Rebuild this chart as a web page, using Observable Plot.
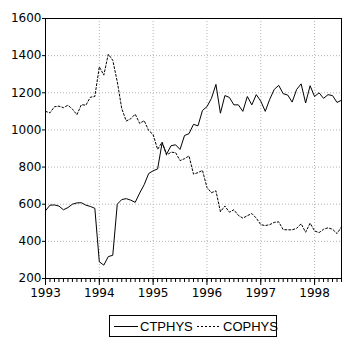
<!DOCTYPE html>
<html>
<head>
<meta charset="utf-8">
<script src="https://cdn.jsdelivr.net/npm/d3@7"></script>
<script src="https://cdn.jsdelivr.net/npm/@observablehq/plot@0.6"></script>
<style>
  body { margin: 0; background: #fff; }
  #chart svg { display: block; }
</style>
</head>
<body>
<div id="chart"></div>
<script>
const startYear = 1993;
const years = [1993, 1994, 1995, 1996, 1997, 1998];
const yTicks = [200, 400, 600, 800, 1000, 1200, 1400, 1600];
const seriesNames = ["CTPHYS", "COPHYS"];

// monthly, 1993M01 .. 1998M07
const ctphys = [565, 595, 596, 590, 570, 582, 600, 607, 608, 595, 588, 578,
  290, 272, 318, 325, 600, 625, 630, 622, 610, 660, 705, 765,
  780, 790, 930, 870, 915, 920, 895, 970, 980, 1030, 1022, 1105,
  1125, 1170, 1245, 1090, 1185, 1175, 1135, 1135, 1100, 1180, 1135, 1190,
  1155, 1100, 1165, 1218, 1240, 1195, 1188, 1150, 1218, 1248, 1145, 1238,
  1180, 1200, 1170, 1190, 1185, 1148, 1160];
const cophys = [1100, 1092, 1125, 1128, 1120, 1133, 1112, 1082, 1136, 1133, 1176, 1180,
  1340, 1295, 1408, 1375, 1260, 1115, 1048, 1060, 1085, 1035, 1050, 997,
  975, 895, 935, 865, 880, 878, 835, 845, 860, 762, 770, 782,
  690, 662, 672, 560, 590, 557, 570, 540, 525, 538, 550, 525,
  490, 485, 490, 502, 505, 463, 462, 462, 470, 495, 449, 498,
  456, 447, 465, 473, 465, 442, 478];

const data = ctphys.map((v, i) => ({t: startYear + i / 12, ct: v, co: cophys[i]}));
const monthTicks = d3.range(0, 67).map(i => startYear + i / 12);

const gridStyle = {stroke: "#b4b4b4", strokeOpacity: 1, strokeDasharray: "1,2"};

const chart = Plot.plot({
  width: 359,
  height: 300,
  marginLeft: 45,
  marginTop: 18,
  marginRight: 18,
  marginBottom: 22,
  style: {fontFamily: "'DejaVu Sans', sans-serif", fontSize: "12px", color: "black", background: "white"},
  x: {domain: [1993, 1998.5], label: null},
  y: {domain: [200, 1600], label: null},
  marks: [
    Plot.gridX(years.slice(1), gridStyle),
    Plot.gridY(yTicks.slice(1, -1), gridStyle),
    Plot.axisX({ticks: monthTicks, tickSize: 4, tickFormat: () => ""}),
    Plot.axisX({ticks: years, tickSize: 7, tickPadding: 3, tickFormat: d => String(d), fontSize: 12}),
    Plot.axisY({ticks: yTicks, tickSize: 3, tickPadding: 1, tickFormat: d => String(d), fontSize: 12}),
    Plot.line(data, {x: "t", y: "co", stroke: "black", strokeWidth: 1, strokeDasharray: "2,2"}),
    Plot.line(data, {x: "t", y: "ct", stroke: "black", strokeWidth: 1}),
    Plot.frame({stroke: "black"})
  ]
});
document.getElementById("chart").appendChild(chart);

// legend below the chart
const ns = "http://www.w3.org/2000/svg";
const leg = d3.select("#chart").append("svg")
  .attr("width", 359).attr("height", 51)
  .style("display", "block")
  .style("font-family", "'Liberation Sans', Arial, sans-serif")
  .style("font-size", "13px");
leg.append("rect").attr("x", 109.5).attr("y", 15.5).attr("width", 167).attr("height", 21)
  .attr("fill", "white").attr("stroke", "black");
leg.append("line").attr("x1", 114).attr("x2", 138).attr("y1", 26.5).attr("y2", 26.5)
  .attr("stroke", "black");
leg.append("text").attr("x", 140).attr("y", 31).text(seriesNames[0]);
leg.append("line").attr("x1", 197).attr("x2", 219).attr("y1", 26.5).attr("y2", 26.5)
  .attr("stroke", "black").attr("stroke-dasharray", "2,2");
leg.append("text").attr("x", 223).attr("y", 31).text(seriesNames[1]);
</script>
</body>
</html>
